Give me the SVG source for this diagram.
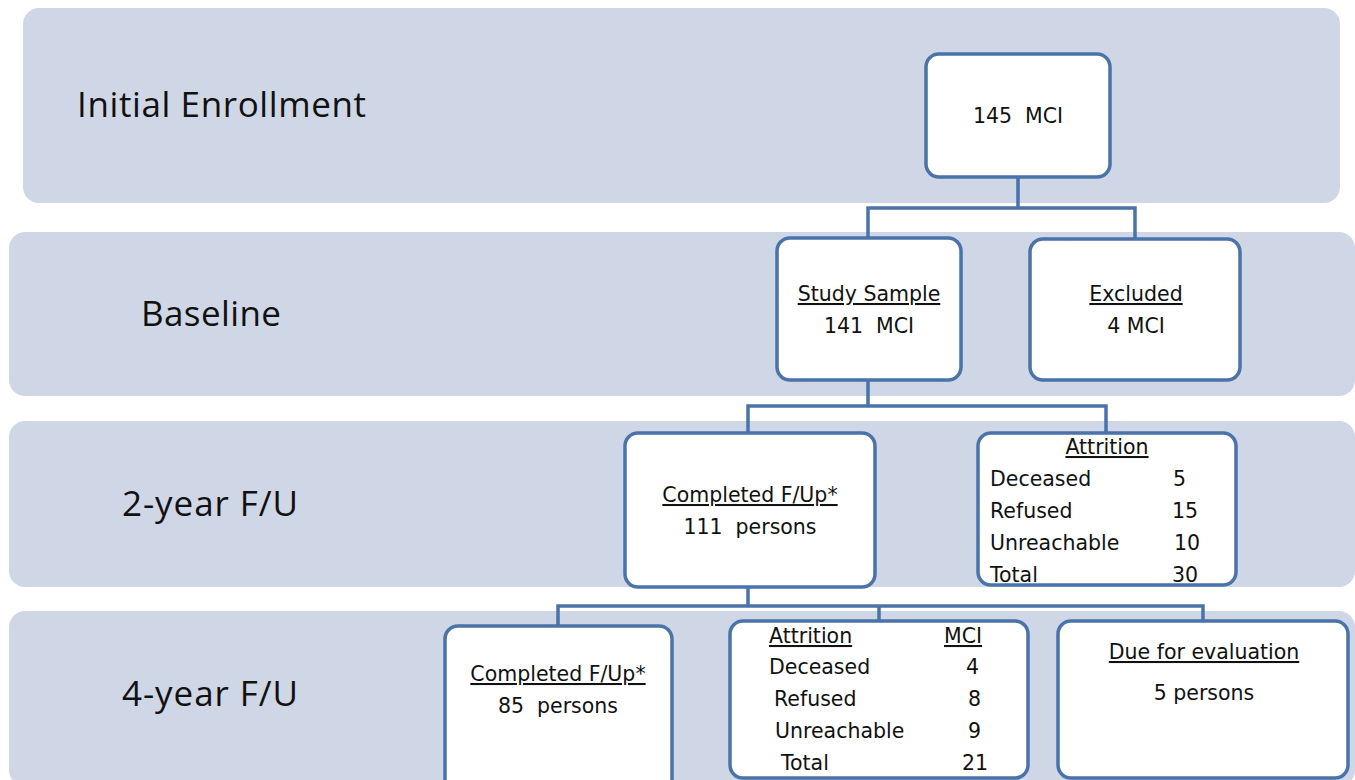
<svg xmlns="http://www.w3.org/2000/svg" width="1355" height="780" viewBox="0 0 1355 780">
<style>
.band{fill:#cfd7e6;}
.box{fill:#ffffff;stroke:#4a73a9;stroke-width:3.5;}
.conn{fill:none;stroke:#4a73a9;stroke-width:3.5;}
.lbl{font-family:"Open Sans","Liberation Sans",sans-serif;font-size:35px;fill:#111;}
.t{font-family:"DejaVu Sans","Liberation Sans",sans-serif;font-size:20.5px;fill:#111;white-space:pre;}
.c{text-anchor:middle;}
.u{text-decoration:underline;}
</style>
<rect width="1355" height="780" fill="#ffffff"/>
<g id="bands">
<rect class="band" x="23" y="8" width="1317" height="195" rx="16"/>
<rect class="band" x="9" y="232" width="1346" height="164" rx="16"/>
<rect class="band" x="9" y="421" width="1346" height="166" rx="16"/>
<rect class="band" x="9" y="611" width="1346" height="175" rx="16"/>
</g>
<g id="labels">
<text class="lbl" x="77" y="117" textLength="289">Initial Enrollment</text>
<text class="lbl" x="141" y="326" textLength="140">Baseline</text>
<text class="lbl" x="122" y="516" textLength="176">2-year F/U</text>
<text class="lbl" x="122" y="706" textLength="176">4-year F/U</text>
</g>
<g id="connectors">
<path class="conn" d="M1018 177 V208 M868 238 V208 H1135 V238"/>
<path class="conn" d="M868 380 V406 M748 433 V406 H1106 V433"/>
<path class="conn" d="M748 587 V606 M558 626 V606 H1203 V621 M879 606 V621"/>
</g>
<g id="n-enroll">
<rect class="box" x="926" y="54" width="184" height="123" rx="13"/>
<text class="t c" x="1018" y="123" xml:space="preserve">145  MCI</text>
</g>
<g id="n-study">
<rect class="box" x="777" y="238" width="184" height="142" rx="13"/>
<text class="t c u" x="869" y="301">Study Sample</text>
<text class="t c" x="869" y="333" xml:space="preserve">141  MCI</text>
</g>
<g id="n-excluded">
<rect class="box" x="1030" y="239" width="210" height="141" rx="13"/>
<text class="t c u" x="1136" y="301">Excluded</text>
<text class="t c" x="1136" y="333">4 MCI</text>
</g>
<g id="n-completed2">
<rect class="box" x="625" y="433" width="250" height="154" rx="13"/>
<text class="t c u" x="750" y="502">Completed F/Up*</text>
<text class="t c" x="750" y="534" xml:space="preserve">111  persons</text>
</g>
<g id="n-attrition2">
<rect class="box" x="978" y="433" width="258" height="152" rx="13"/>
<text class="t c u" x="1107" y="454">Attrition</text>
<text class="t" x="990" y="486">Deceased</text><text class="t" x="1173" y="486">5</text>
<text class="t" x="990" y="518">Refused</text><text class="t" x="1172" y="518">15</text>
<text class="t" x="990" y="550">Unreachable</text><text class="t" x="1174" y="550">10</text>
<text class="t" x="990" y="582">Total</text><text class="t" x="1172" y="582">30</text>
</g>
<g id="n-completed4">
<rect class="box" x="445" y="626" width="227" height="170" rx="13"/>
<text class="t c u" x="558" y="681">Completed F/Up*</text>
<text class="t c" x="558" y="713" xml:space="preserve">85  persons</text>
</g>
<g id="n-attrition4">
<rect class="box" x="730" y="621" width="298" height="157" rx="13"/>
<text class="t u" x="769" y="643">Attrition</text><text class="t u" x="944" y="643">MCI</text>
<text class="t" x="769" y="674">Deceased</text><text class="t" x="966" y="674">4</text>
<text class="t" x="774" y="706">Refused</text><text class="t" x="968" y="706">8</text>
<text class="t" x="775" y="738">Unreachable</text><text class="t" x="968" y="738">9</text>
<text class="t" x="781" y="770">Total</text><text class="t" x="962" y="770">21</text>
</g>
<g id="n-due">
<rect class="box" x="1058" y="621" width="290" height="157" rx="13"/>
<text class="t c u" x="1204" y="659">Due for evaluation</text>
<text class="t c" x="1204" y="700">5 persons</text>
</g>
</svg>
